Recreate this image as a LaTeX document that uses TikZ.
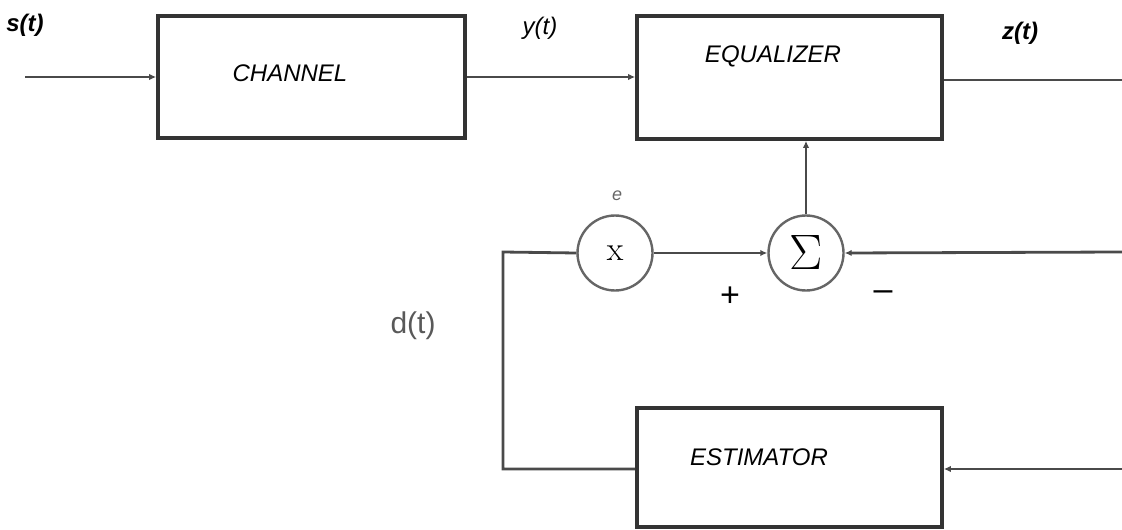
\documentclass[tikz,border=0pt]{standalone}
\usepackage{fontspec}
\setmainfont{Liberation Sans}
\usetikzlibrary{arrows.meta}
\definecolor{boxc}{HTML}{333333}
\definecolor{linec}{HTML}{4A4A4A}
\definecolor{circc}{HTML}{666666}
\tikzset{
  blk/.style={draw=boxc, line width=1.8pt, fill=white, inner sep=0pt},
  sumc/.style={circle, draw=circc, line width=1.2pt, minimum size=37.5pt, inner sep=0pt},
  wire/.style={draw=linec, line width=1.4pt},
  arr/.style={wire, -{Latex[length=3.5pt,width=3.2pt]}},
  boxtxt/.style={font=\fontsize{12}{14}\selectfont\itshape, inner sep=0pt},
  sig/.style={font=\fontsize{12}{14}\selectfont\itshape, inner sep=0pt},
}
\begin{document}
\begin{tikzpicture}[x=0.5pt,y=-0.5pt]
\useasboundingbox (0,0) rectangle (1122,529);
% blocks
\node[blk, minimum width=153.5pt, minimum height=61pt] (ch) at (311.5,77) {};
\node[blk, minimum width=152.5pt, minimum height=61.5pt] (eq) at (789.5,77.5) {};
\node[blk, minimum width=152.5pt, minimum height=59.5pt] (es) at (789.5,467.5) {};
\node[boxtxt] (cht) at (290,73) {CHANNEL};
\node[boxtxt] (eqt) at (773,56) {EQUALIZER};
\node[boxtxt] (est) at (759,457) {ESTIMATOR};
% circles
\node[sumc] (mul) at (615,253) {\fontfamily{lmr}\fontsize{17}{17}\selectfont x};
\node[sumc] (sum) at (806,253) {\fontsize{25}{25}\selectfont$\Sigma$};
% coordinates
\coordinate (in) at (25,77);
\coordinate (out) at (1122,80);
\coordinate (fbr) at (1122,252);
\coordinate (esr) at (1122,469);
\coordinate (cl) at (503,469);
\coordinate (cu) at (503,252);
% connectors
\draw[arr] (in) -- (ch.west);
\draw[arr] (ch.east) -- (ch.east -| eq.west);
\draw[wire] (eq.east |- out) -- (out);
\draw[arr] (sum.north) -- (sum.north |- eq.south);
\draw[arr] (mul.east) -- (sum.west);
\draw[arr] (fbr) -- (sum.east);
\draw[arr] (esr) -- (esr -| es.east);
\draw[wire] (cl -| es.west) -- (cl) -- (cu) -- (mul.west);
% labels
\node[sig, font=\fontsize{12}{14}\selectfont\bfseries\itshape] (st) at (25,25) {s(t)};
\node[sig] (yt) at (540,28) {y(t)};
\node[sig, font=\fontsize{12}{14}\selectfont\bfseries\itshape] (zt) at (1020,33) {z(t)};
\node[inner sep=0pt, text=black!65, font=\fontsize{15}{17}\selectfont] (dt) at (413,326) {d(t)};
\node[inner sep=0pt, text=black!60, font=\fontsize{9}{10}\selectfont\itshape] (e) at (617,196) {e};
\node[inner sep=0pt, font=\fontsize{17}{17}\selectfont] (plus) at (730,297) {+};
\node[inner sep=0pt, font=\fontsize{17}{17}\selectfont] (minus) at (883,296) {\textendash};
\end{tikzpicture}
\end{document}
